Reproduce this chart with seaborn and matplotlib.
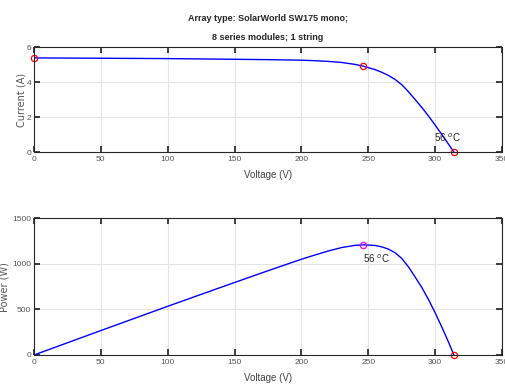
import numpy as np
import pandas as pd
import seaborn as sns
import matplotlib
matplotlib.use("Agg")
import matplotlib.pyplot as plt

# I-V / P-V curve of the array
voltage = [0, 25, 50, 75, 100, 125, 150, 175, 200, 210, 220, 230, 240, 246,
           250, 255, 260, 265, 270, 275, 280, 285, 290, 295, 300, 305, 310, 314]
current = [5.38, 5.37, 5.36, 5.35, 5.34, 5.32, 5.30, 5.28, 5.25, 5.22, 5.18,
           5.12, 5.01, 4.91, 4.82, 4.71, 4.56, 4.38, 4.15, 3.85, 3.45, 3.00,
           2.55, 2.06, 1.54, 1.00, 0.45, 0.0]
power = [0, 134, 268, 401, 534, 665, 795, 924, 1050, 1096, 1140, 1178, 1202,
         1208, 1205, 1201, 1186, 1161, 1121, 1059, 966, 855, 740, 608, 462,
         305, 140, 0]

# marked points
isc = 5.38
v_mp, i_mp, p_mp = 246, 4.91, 1208
voc = 314
temp_label = "56 $^o$C"

df = pd.DataFrame({"V": voltage, "I": current, "P": power})

sns.set_theme(style="whitegrid")
plt.rcParams.update({
    "axes.edgecolor": "#262626",
    "axes.linewidth": 0.8,
    "grid.color": "#e3e3e3",
    "grid.linewidth": 0.8,
    "xtick.direction": "in",
    "ytick.direction": "in",
    "xtick.top": True,
    "ytick.right": True,
    "xtick.bottom": True,
    "ytick.left": True,
    "xtick.major.size": 4,
    "ytick.major.size": 4,
    "xtick.color": "#262626",
    "ytick.color": "#262626",
    "xtick.labelcolor": "#555555",
    "ytick.labelcolor": "#555555",
})
plt.rcParams["font.family"] = ["Liberation Sans", "DejaVu Sans"]

fig = plt.figure(figsize=(5.06, 3.92), dpi=100)
ax1 = fig.add_axes([0.0672, 0.612, 0.925, 0.268])
ax2 = fig.add_axes([0.0672, 0.0944, 0.925, 0.349])

# ── Current vs voltage ──
sns.lineplot(data=df, x="V", y="I", ax=ax1, color="#0000ff", linewidth=1.0)
ax1.plot([0, v_mp, voc], [isc, i_mp, 0], "o", mfc="none", mec="red",
         ms=4.5, mew=0.9, clip_on=False)
ax1.text(299, 0.6, temp_label, fontsize=7, color="#222222")
ax1.set_xlim(0, 350)
ax1.set_ylim(0, 6)
ax1.set_yticks([0, 2, 4, 6])
ax1.set_xlabel("Voltage (V)", fontsize=7, color="#444444", labelpad=5)
ax1.set_ylabel("Current (A)", fontsize=7, color="#555555", family=["DejaVu Sans"])
ax1.yaxis.set_label_coords(-0.017, 0.5)
ax1.set_title("Array type: SolarWorld SW175 mono;\n8 series modules; 1 string",
              fontsize=6.5, fontweight="bold", linespacing=2.4, pad=5)

# ── Power vs voltage ──
sns.lineplot(data=df, x="V", y="P", ax=ax2, color="#0000ff", linewidth=1.0)
ax2.plot([v_mp], [p_mp], "o", mfc="none", mec="magenta", ms=4.5, mew=0.9)
ax2.plot([voc], [0], "o", mfc="none", mec="red", ms=4.5, mew=0.9, clip_on=False)
ax2.text(v_mp, 1010, temp_label, fontsize=7, color="#222222")
ax2.set_xlim(0, 350)
ax2.set_ylim(0, 1500)
ax2.set_yticks([0, 500, 1000, 1500])
ax2.set_xlabel("Voltage (V)", fontsize=7, color="#444444", labelpad=5)
ax2.set_ylabel("Power (W)", fontsize=7, color="#555555", family=["DejaVu Sans"])
ax2.yaxis.set_label_coords(-0.052, 0.5)

for ax in (ax1, ax2):
    ax.set_xticks(range(0, 351, 50))
    ax.tick_params(labelsize=6, pad=3)
    ax.tick_params(axis="y", pad=2)
    for s in ax.spines.values():
        s.set_visible(True)

fig.savefig("out.png", dpi=100)
